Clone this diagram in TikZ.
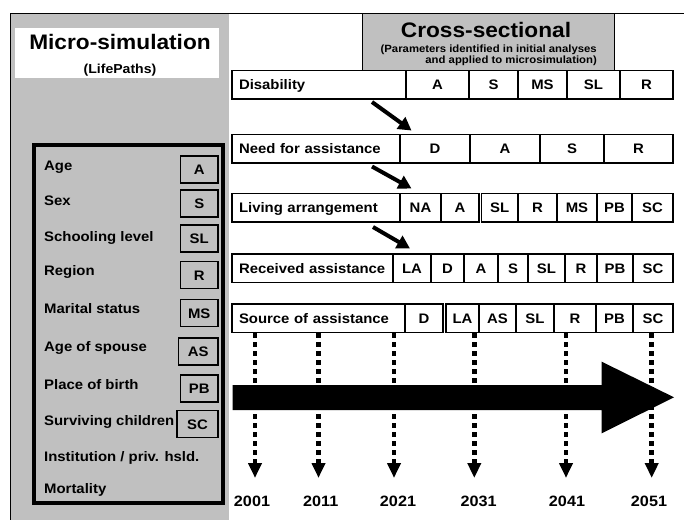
\documentclass[tikz,border=0pt]{standalone}
\usepackage{fontspec}
\setmainfont[FakeStretch=1.08]{Liberation Sans}
\usetikzlibrary{arrows.meta,positioning}
\definecolor{panel}{HTML}{C0C0C0}
\tikzset{
  lab/.style={font=\fontsize{13.8}{15}\selectfont\bfseries,inner sep=0pt,text height=12pt,text depth=2pt},
  cell/.style={lab,draw,fill=white,line width=1.5pt,minimum height=28.5pt},
  rowhead/.style={cell,inner xsep=7pt,align=left},
  varbox/.style={lab,draw,fill=panel,line width=1.5pt,minimum height=27pt},
  title/.style={font=\fontsize{21}{23}\selectfont\bfseries,inner sep=0pt},
  push/.style={line width=4pt,-{Triangle[length=13pt,width=14pt]}},
  tick/.style={line width=4.5pt,dash pattern=on 5pt off 4pt,-{Triangle[length=15pt,width=13pt]}},
  year/.style={font=\fontsize{15}{17}\selectfont\bfseries,inner sep=0pt},
}
\begin{document}
\begin{tikzpicture}[x=1pt,y=-1pt]
  \useasboundingbox (0,0) rectangle (684,520);
  % micro-simulation side
  \fill[panel] (10,13) rectangle (229,520);
  \draw[line width=0.8pt] (684,13) -- (10,13) -- (10,520);
  \fill[white] (15,28) rectangle (219,78);
  \node[title] (micro) at (120,41.5) {Micro-simulation};
  \node[lab,font=\fontsize{13}{15}\selectfont\bfseries] (lifepaths) at (120,68.5) {(LifePaths)};
  \draw[line width=3.5pt] (34,145) rectangle (223,503);
  \foreach \ty/\txt [count=\i] in {165/Age,200/Sex,236.7/Schooling level,270.7/Region,
      308/Marital status,346.7/Age of spouse,384/Place of birth,420/Surviving children,
      456/{Institution / priv. hsld.},488/Mortality}
    \node[lab,anchor=west] (var\i) at (44,\ty) {\txt};
  \foreach \by/\abbr/\xl [count=\i] in {169.5/A/180.5,203.3/S/180.5,238.3/SL/180.5,275/R/180.5,
      313/MS/180.5,351.5/AS/178.5,388.3/PB/180.5,424/SC/177}{
    \pgfmathsetmacro\w{218-\xl}
    \node[varbox,minimum width=\w pt] (abbr\i) at ({(\xl+218)/2},\by) {\abbr};
  }

  % cross-sectional side
  \filldraw[fill=panel,line width=0.8pt] (362,13) rectangle (614,70);
  \node[title] (cross) at (486,29.5) {Cross-sectional};
  \node[font=\fontsize{10.5}{9.5}\selectfont\bfseries,align=right,anchor=east,inner sep=0pt] (params)
    at (597,55.5) {(Parameters identified in initial analyses\\and applied to microsimulation)};

  \node[rowhead,text width=160pt] (dis0) at (319,84.75) {Disability};
  \foreach \xa/\xb/\txt [count=\i] in {406/469/A,469/518/S,518/567/MS,567/620/SL,620/673/R}{
    \pgfmathsetmacro\w{\xb-\xa}
    \node[cell,minimum width=\w pt] (dis\i) at ({(\xa+\xb)/2},84.75) {\txt};
  }
  \node[rowhead,text width=154pt] (need0) at (316,148.5) {Need for assistance};
  \foreach \xa/\xb/\txt [count=\i] in {400/470/D,470/540/A,540/604/S,604/673/R}{
    \pgfmathsetmacro\w{\xb-\xa}
    \node[cell,minimum width=\w pt] (need\i) at ({(\xa+\xb)/2},148.5) {\txt};
  }
  \node[rowhead,text width=154pt] (liv0) at (316,207.5) {Living arrangement};
  \foreach \xa/\xb/\txt [count=\i] in {400/441/NA,441/479/A,481.5/518/SL,518/557/R,
      557/597/MS,597/632/PB,632/673/SC}{
    \pgfmathsetmacro\w{\xb-\xa}
    \node[cell,minimum width=\w pt] (liv\i) at ({(\xa+\xb)/2},207.5) {\txt};
  }
  \node[rowhead,text width=147pt] (rec0) at (312.5,268) {Received assistance};
  \foreach \xa/\xb/\txt [count=\i] in {393/431/LA,431/464/D,464/498/A,498/528/S,528/565/SL,
      565/597/R,597/633/PB,633/673/SC}{
    \pgfmathsetmacro\w{\xb-\xa}
    \node[cell,minimum width=\w pt] (rec\i) at ({(\xa+\xb)/2},268) {\txt};
  }
  \node[rowhead,text width=159pt] (src0) at (318.5,318) {Source of assistance};
  \foreach \xa/\xb/\txt [count=\i] in {405/443/D,446/479/LA,479/516/AS,516/554/SL,
      554/596/R,596/633/PB,633/673/SC}{
    \pgfmathsetmacro\w{\xb-\xa}
    \node[cell,minimum width=\w pt] (src\i) at ({(\xa+\xb)/2},318) {\txt};
  }

  % arrows between rows
  \coordinate (p1) at (372,102);   \coordinate (q1) at (411.5,130.5);
  \coordinate (p2) at (372,166.5); \coordinate (q2) at (411.5,188.5);
  \coordinate (p3) at (373,227);   \coordinate (q3) at (410,248.5);
  \foreach \i in {1,2,3}
    \draw[push] (p\i) -- (q\i);

  % time line
  \fill (232.7,385) -- (601.7,385) -- (601.7,361.7) -- (674,397.3) -- (601.7,433.3)
    -- (601.7,410) -- (232.7,410) -- cycle;
  \foreach \x/\yr [count=\i] in {255/2001,318.5/2011,394/2021,474.3/2031,566/2041,651.7/2051}{
    \coordinate (top\i) at (\x,333);
    \coordinate (tip\i) at (\x,478);
    \draw[tick] (top\i) -- (tip\i);
  }
  \foreach \x/\yr [count=\i] in {252/2001,320.7/2011,398/2021,478.7/2031,567/2041,649/2051}
    \node[year] (yr\i) at (\x,501.5) {\yr};
\end{tikzpicture}
\end{document}
